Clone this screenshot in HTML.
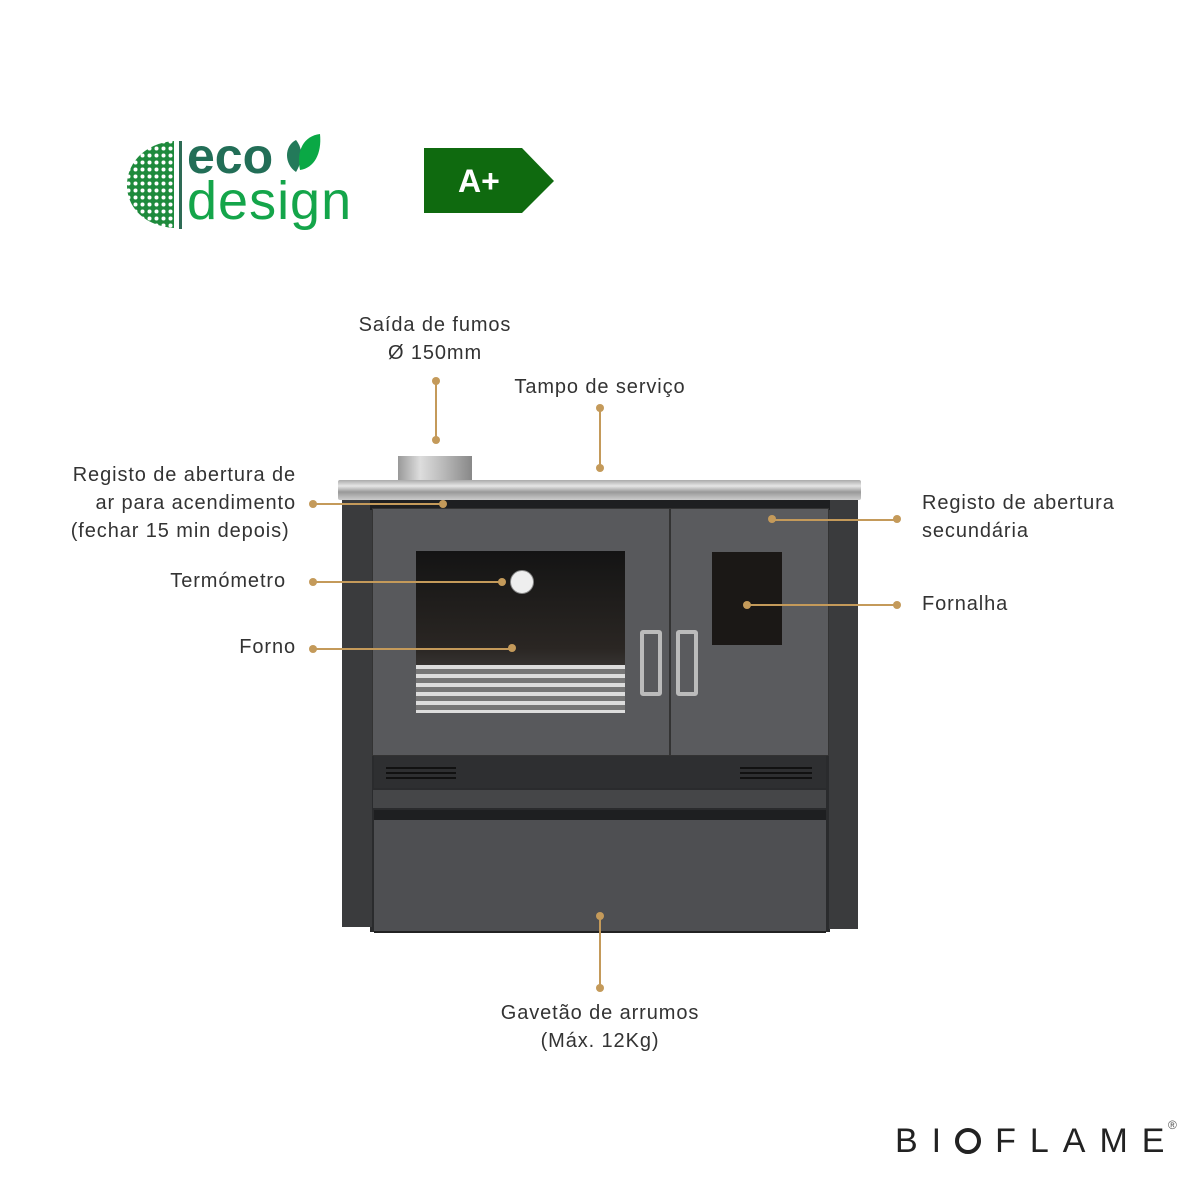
<!DOCTYPE html>
<html><head><meta charset="utf-8"><style>
body{margin:0;width:1200px;height:1200px;background:#fff;position:relative;overflow:hidden;font-family:"Liberation Sans",sans-serif}
.a{position:absolute}
.t{position:absolute;color:#333;font-size:20px;line-height:28px;letter-spacing:0.9px}
.ln{position:absolute;background:#c49a5a}
.d{position:absolute;width:8px;height:8px;border-radius:50%;background:#c49a5a}
</style></head><body>
<!-- eco design logo -->
<svg class="a" style="left:125px;top:138px" width="60" height="95" viewBox="0 0 60 95">
<defs><pattern id="p" width="7" height="7" patternUnits="userSpaceOnUse"><rect width="7" height="7" fill="#1e8a3c"/><circle cx="3.5" cy="3.5" r="2" fill="#fff"/></pattern></defs>
<path d="M49 3 C20 5 2 25 2 47 C2 70 20 88 49 90 Z" fill="url(#p)"/>
<rect x="54" y="3" width="3" height="88" fill="#2e6b55"/>
</svg>
<div class="a" style="left:187px;top:127px;font-size:50px;font-weight:bold;color:#226e57;letter-spacing:0px">eco</div>
<svg class="a" style="left:282px;top:132px" width="40" height="42"><path d="M14 8 C2 14 2 32 14 40 C20 30 22 18 14 8Z" fill="#237a5a"/><path d="M38 2 C22 4 14 18 18 38 C32 36 40 22 38 2Z" fill="#0aa845"/></svg>
<div class="a" style="left:187px;top:170px;font-size:54px;color:#14a54a;letter-spacing:1px">design</div>
<svg class="a" style="left:424px;top:148px" width="130" height="66"><polygon points="0,0 98,0 130,33 98,65 0,65" fill="#0f6a0f"/><text x="34" y="44" font-family="Liberation Sans" font-weight="bold" font-size="32" fill="#fff">A+</text></svg>

<!-- stove -->
<div class="a" style="left:370px;top:500px;width:460px;height:432px;background:#2a2b2d"></div>
<div class="a" style="left:398px;top:456px;width:74px;height:26px;background:linear-gradient(90deg,#999,#ddd 30%,#bbb 60%,#888)"></div>
<div class="a" style="left:342px;top:500px;width:30px;height:427px;background:#3a3b3d"></div>
<div class="a" style="left:829px;top:500px;width:29px;height:429px;background:#3a3b3d"></div>
<div class="a" style="left:370px;top:498px;width:460px;height:12px;background:#1e1f21"></div>
<div class="a" style="left:338px;top:480px;width:523px;height:20px;background:linear-gradient(#aaa,#e6e6e6 30%,#999 60%,#ccc);border-radius:2px"></div>
<div class="a" style="left:372px;top:508px;width:296px;height:246px;background:#58595c;border:1px solid #333"></div>
<div class="a" style="left:670px;top:508px;width:157px;height:246px;background:#5a5b5e;border:1px solid #333"></div>
<div class="a" style="left:416px;top:551px;width:209px;height:162px;background:linear-gradient(#141414,#2a2623 60%,#555)"></div>
<div class="a" style="left:416px;top:665px;width:209px;height:48px;background:repeating-linear-gradient(#ddd 0 4px,#777 4px 9px)"></div>
<div class="a" style="left:510px;top:570px;width:22px;height:22px;border-radius:50%;background:#eee;border:1px solid #888"></div>
<div class="a" style="left:712px;top:552px;width:70px;height:93px;background:#1b1816"></div>
<div class="a" style="left:640px;top:630px;width:22px;height:66px;border:4px solid #bbb;border-radius:3px;box-sizing:border-box"></div>
<div class="a" style="left:676px;top:630px;width:22px;height:66px;border:4px solid #bbb;border-radius:3px;box-sizing:border-box"></div>
<div class="a" style="left:374px;top:756px;width:452px;height:32px;background:#2e2f31"></div>
<div class="a" style="left:386px;top:767px;width:70px;height:2px;background:#111;box-shadow:0 5px 0 #111,0 10px 0 #111"></div>
<div class="a" style="left:740px;top:767px;width:72px;height:2px;background:#111;box-shadow:0 5px 0 #111,0 10px 0 #111"></div>
<div class="a" style="left:373px;top:790px;width:453px;height:18px;background:#454648"></div>
<div class="a" style="left:374px;top:810px;width:452px;height:10px;background:#1e1f21"></div>
<div class="a" style="left:374px;top:820px;width:452px;height:111px;background:#4e4f52;border-bottom:2px solid #222"></div>

<!-- labels -->
<div class="t" style="left:320px;top:311px;width:230px;text-align:center">Saída de fumos<br>Ø 150mm</div>
<div class="ln" style="left:435px;top:381px;width:2px;height:59px"></div><div class="d" style="left:432px;top:377px"></div><div class="d" style="left:432px;top:436px"></div>
<div class="t" style="left:480px;top:373px;width:240px;text-align:center">Tampo de serviço</div>
<div class="ln" style="left:599px;top:408px;width:2px;height:60px"></div><div class="d" style="left:596px;top:404px"></div><div class="d" style="left:596px;top:464px"></div>
<div class="t" style="left:0px;top:461px;width:296px;text-align:right">Registo de abertura de<br>ar para acendimento<br>(fechar 15 min depois)&nbsp;</div>
<div class="ln" style="left:313px;top:503px;width:130px;height:2px"></div><div class="d" style="left:309px;top:500px"></div><div class="d" style="left:439px;top:500px"></div>
<div class="t" style="left:80px;top:567px;width:206px;text-align:right">Termómetro</div>
<div class="ln" style="left:313px;top:581px;width:189px;height:2px"></div><div class="d" style="left:309px;top:578px"></div><div class="d" style="left:498px;top:578px"></div>
<div class="t" style="left:150px;top:633px;width:146px;text-align:right">Forno</div>
<div class="ln" style="left:313px;top:648px;width:199px;height:2px"></div><div class="d" style="left:309px;top:645px"></div><div class="d" style="left:508px;top:644px"></div>
<div class="t" style="left:922px;top:489px">Registo de abertura<br>secundária</div>
<div class="ln" style="left:772px;top:519px;width:125px;height:2px"></div><div class="d" style="left:768px;top:515px"></div><div class="d" style="left:893px;top:515px"></div>
<div class="t" style="left:922px;top:590px">Fornalha</div>
<div class="ln" style="left:747px;top:604px;width:150px;height:2px"></div><div class="d" style="left:743px;top:601px"></div><div class="d" style="left:893px;top:601px"></div>
<div class="t" style="left:460px;top:999px;width:280px;text-align:center">Gavetão de arrumos<br>(Máx. 12Kg)</div>
<div class="ln" style="left:599px;top:916px;width:2px;height:72px"></div><div class="d" style="left:596px;top:912px"></div><div class="d" style="left:596px;top:984px"></div>

<!-- bioflame -->
<div class="a" style="left:895px;top:1122px;font-size:34px;color:#222;letter-spacing:14px;white-space:nowrap">BI<span style="display:inline-block;width:26px;height:26px;border-radius:50%;border:4px solid #222;box-sizing:border-box;vertical-align:-2px;margin-right:14px"></span>FLAME</div>
<div class="a" style="left:1168px;top:1118px;font-size:12px;color:#555">®</div>
</body></html>
